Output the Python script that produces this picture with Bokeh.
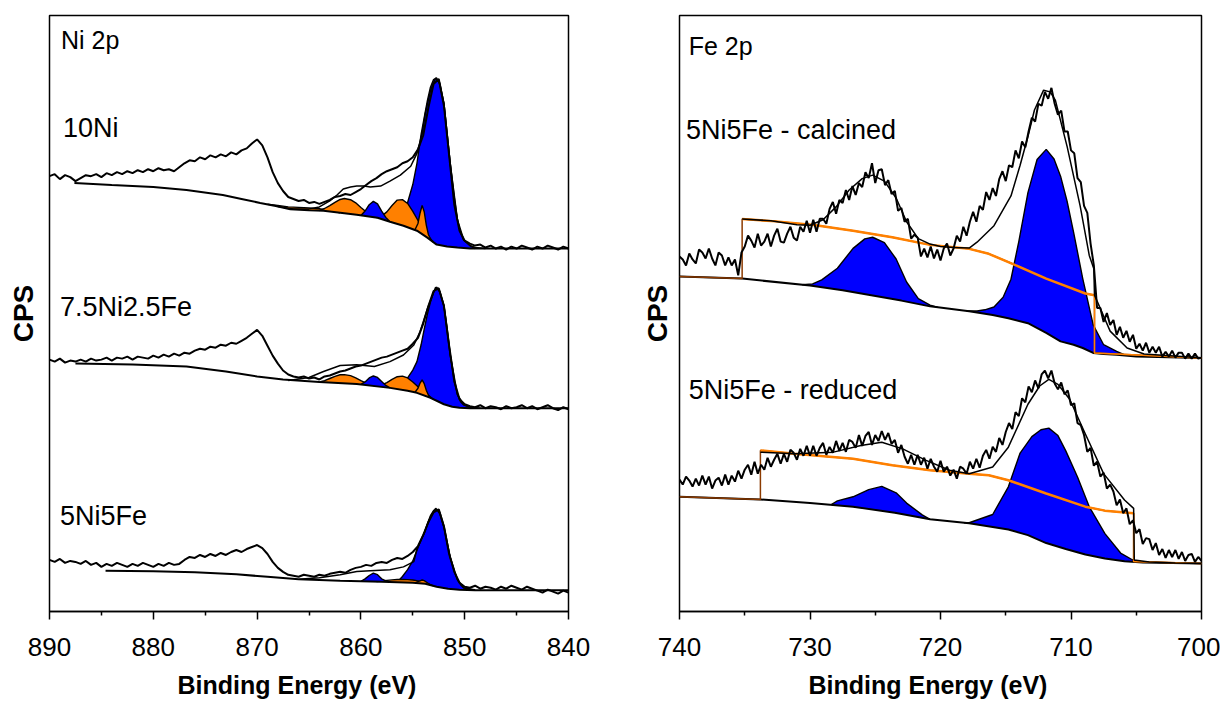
import numpy as np
from bokeh.plotting import figure
from bokeh.layouts import row
from bokeh.models import Range1d, FixedTicker, Label, Title
from bokeh.embed import file_html
from bokeh.resources import INLINE

FONT = "Liberation Sans"
BLUE = "#0000FF"
ORANGE = "#FF8000"
BROWN = "#8B3A00"

# ---------------- Ni 2p panel (values in arbitrary CPS units, stacked) ----------------
ni_e_start, ni_e_step = 890.0, 0.5

ni10_counts = [439, 441, 436, 440, 438, 434, 437, 440, 439, 441,
               438, 442, 440, 443, 441, 444, 442, 445, 443, 446,
               444, 447, 445, 446, 444, 448, 452, 455, 454, 458,
               456, 460, 458, 461, 459, 463, 461, 465, 467, 472,
               476, 470, 458, 443, 432, 424, 418, 416, 414, 415,
               412, 413, 411, 413, 415, 418, 419, 421, 420, 423,
               426, 430, 434, 437, 441, 444, 446, 448, 452, 454,
               458, 466, 480, 508, 532, 537, 510, 460, 410, 384,
               374, 371, 369, 370, 367, 369, 366, 368, 365, 368,
               366, 369, 367, 365, 368, 366, 369, 367, 365, 368,
               366]
ni75_counts = [254, 252, 255, 251, 253, 252, 254, 252, 255, 253,
               254, 256, 253, 256, 255, 257, 254, 257, 256, 255,
               258, 256, 259, 257, 260, 258, 261, 260, 263, 265,
               264, 267, 266, 269, 268, 271, 270, 273, 276, 280,
               284, 278, 268, 258, 250, 243, 239, 237, 236, 237,
               235, 236, 234, 237, 238, 240, 242, 243, 245, 247,
               248, 250, 252, 254, 256, 257, 259, 261, 263, 265,
               270, 276, 290, 308, 323, 326, 308, 268, 232, 214,
               209, 207, 206, 208, 205, 207, 206, 204, 207, 205,
               206, 208, 205, 207, 204, 206, 208, 205, 203, 206,
               204]
ni5_counts = [52, 50, 53, 49, 51, 50, 48, 51, 47, 49,
              45, 48, 46, 49, 47, 45, 48, 46, 49, 47,
              45, 48, 46, 49, 47, 48, 52, 55, 54, 57,
              55, 58, 56, 59, 57, 60, 62, 60, 63, 65,
              67, 64, 58, 50, 44, 40, 37, 36, 35, 37,
              36, 35, 37, 36, 38, 39, 40, 39, 42, 44,
              45, 47, 46, 49, 50, 49, 52, 54, 53, 56,
              60, 66, 77, 90, 100, 103, 86, 58, 40, 29,
              25, 24, 26, 23, 25, 24, 22, 25, 23, 26,
              24, 22, 25, 23, 21, 19, 22, 20, 18, 21,
              19]

# backgrounds
bg10_e = [887.6, 884, 880, 876.8, 873.3, 871.5, 869.7, 868.2, 866.8, 865, 863.6, 862, 860.4,
          858.4, 857.2, 855.9, 854.6, 853.6, 852.7, 851.7, 850.7, 849.5, 840]
bg10 = [432, 430, 428, 425, 420, 416, 412, 409, 405.5, 404.5, 404, 402, 400,
        397, 393, 389, 384, 377, 370, 368, 367, 366, 366]
bg75_e = [887.5, 882, 876.8, 873, 870, 867.5, 864, 860.4, 857.2, 855.5, 854.6, 853.3,
          852.6, 852.0, 851.2, 850.5, 849.5, 840]
bg75 = [250, 249, 247, 242, 237, 234, 231.5, 229.5, 225.5, 222.5, 220.5, 215.5,
        212, 209, 206.5, 205.5, 205, 205]
bg5_e = [884.6, 880, 876, 872, 869, 866, 862, 858, 855, 853.8, 852.7, 851.6, 850.5, 849, 840]
bg5 = [41, 40.5, 39.5, 37.5, 35, 32.5, 31, 30, 29, 28, 25, 23, 22, 21.5, 21.5]

# fit envelopes
env10_e = [868.0, 866.5, 865.0, 864.0, 863.0, 862.3, 861.7, 861.0, 860.4, 859.7, 859.1, 858.1,
           857.2, 856.2, 855.2, 854.6, 854.1, 853.8, 853.3, 852.8, 852.4, 852.0, 851.4,
           850.7, 850.1, 849.5, 849.0, 848.0]
env10 = [408.5, 406, 406, 408, 414, 420, 426, 428, 429, 429, 428, 429,
         434, 440, 449, 462, 482, 502, 525, 538, 533, 512, 452,
         395, 375, 369, 367, 366]
env75_e = [867.0, 865.0, 863.6, 862.0, 860.4, 858.7, 857.2, 855.9, 854.9, 854.3, 853.6,
           852.8, 852.4, 852.0, 851.4, 850.7, 850.1, 849.5, 848.5]
env75 = [233, 236, 242, 248, 248.7, 247, 252, 258.7, 268.7, 282, 305,
         327, 323, 308.7, 258.7, 218.7, 208.7, 206, 205]
env5_e = [866, 864, 862, 860.4, 859.1, 857.2, 855.9, 854.9, 854.6, 853.9, 853.3, 852.8,
          852.4, 852.0, 851.4, 850.7, 850.1, 849.5, 849.0]
env5 = [32.5, 34, 37, 40.3, 41, 42, 45, 50.3, 63, 79, 95.5, 104,
        100, 86, 55, 32, 24, 22.5, 22]

# fitted components: heights above the background
ni_main_e = [856.5, 856.0, 855.5, 855.0, 854.6, 854.2, 853.9, 853.6, 853.3, 853.0, 852.7,
             852.4, 852.0, 851.7, 851.4, 851.0, 850.7, 850.4, 850.1, 849.5, 849.0]
ni10_main_h = [0, 6, 25, 45, 68, 100, 119, 138, 154, 164, 168, 162, 144, 115, 85, 50, 28, 15, 8, 3, 0]
ni75_main_h = [0, 4, 13, 22, 31.5, 50, 67, 83, 96.5, 108, 114.5, 111, 99, 78, 53, 26, 13, 6, 3, 1, 0]
ni5_main_h = [0, 6, 13, 22, 33, 44, 51, 61, 70, 76, 78, 74, 61, 46, 32, 18, 10, 5, 2, 1, 0]

ni_sat0_e = [869, 868, 867, 866, 865, 864, 863, 862]
ni10_sat0_h = [0, 1, 2, 2.5, 2.5, 2, 1, 0]

ni_sat1_e = [864.0, 863.5, 863.0, 862.5, 862.0, 861.6, 861.0, 860.5, 860.0, 859.5, 859.0, 858.5]
ni10_sat1_h = [0, 2.5, 6, 10, 13.5, 15, 14.5, 12, 8, 4.5, 2, 0]
ni75_sat1_h = [0, 1.5, 4, 6.5, 8.3, 8.7, 8, 6, 3.8, 2, 0.8, 0]

ni_small_e = [860.0, 859.6, 859.2, 858.8, 858.4, 858.0, 857.6, 857.2]
ni10_small_h = [0, 5, 12, 16, 14, 8, 3, 0]
ni75_small_h = [0, 3, 7.5, 10, 9, 5.5, 2, 0]
ni5_small_h = [0, 2.5, 6, 8.5, 7, 3, 1, 0]

ni_sat2_e = [858.5, 858.0, 857.5, 857.0, 856.5, 856.0, 855.5, 855.0, 854.5, 854.0, 853.5, 853.0]
ni10_sat2_h = [0, 3, 9, 17, 24, 26, 24, 18, 11, 5, 2, 0]
ni75_sat2_h = [0, 2, 5, 9, 12.5, 14, 13, 10, 6.5, 3.5, 1.5, 0]
ni5_sat2_h = [0, 0.8, 1.5, 2.2, 2.8, 3, 3, 2.8, 2.3, 1.5, 0.6, 0]

ni_narrow_e = [854.8, 854.5, 854.3, 854.1, 853.9, 853.7, 853.5, 853.2]
ni10_narrow_h = [0, 8, 20, 29, 24, 12, 4, 0]
ni75_narrow_h = [0, 5, 11, 15, 12, 6, 2, 0]
ni5_narrow_h = [0, 1.5, 2.5, 3.5, 3, 2, 1, 0]

ni_ticks = [890, 880, 870, 860, 850, 840]
ni_minor = [885, 875, 865, 855, 845]

# ---------------- Fe 2p panel ----------------
fe_e_start, fe_e_step = 740.0, 0.25

fe_calc_counts = [358, 355, 349, 361, 355, 351, 365, 362,
                  356, 366, 356, 349, 362, 359, 349, 357,
                  349, 355, 339, 362, 368, 379, 374, 367,
                  381, 369, 373, 381, 368, 379, 386, 373,
                  372, 381, 388, 377, 374, 388, 383, 394,
                  382, 395, 383, 396, 396, 391, 406, 413,
                  401, 415, 412, 425, 415, 429, 420, 432,
                  428, 443, 437, 452, 432, 445, 446, 430,
                  435, 421, 424, 404, 407, 393, 396, 376,
                  380, 377, 358, 366, 357, 368, 356, 365,
                  354, 366, 371, 359, 366, 379, 373, 388,
                  379, 393, 403, 393, 409, 405, 423, 415,
                  427, 419, 436, 444, 434, 450, 448, 465,
                  457, 474, 468, 484, 498, 494, 512, 510,
                  524, 517, 528, 512, 501, 505, 484, 484,
                  465, 462, 437, 433, 409, 402, 371, 349,
                  306, 306, 292, 301, 289, 294, 279, 287,
                  276, 283, 272, 279, 265, 270, 263, 271,
                  261, 267, 261, 267, 257, 262, 257, 263,
                  256, 261, 261, 255, 260, 255, 260, 255,
                  256]
fe_red_counts = [133, 128, 136, 132, 126, 134, 127, 137,
                 128, 136, 124, 132, 135, 127, 138, 128,
                 137, 131, 142, 134, 143, 148, 138, 151,
                 139, 148, 143, 155, 146, 153, 159, 149,
                 159, 151, 163, 160, 153, 164, 157, 167,
                 157, 167, 157, 165, 170, 158, 166, 160,
                 172, 162, 170, 161, 173, 171, 165, 178,
                 167, 177, 181, 168, 178, 172, 182, 173,
                 180, 169, 173, 160, 168, 156, 149, 158,
                 148, 158, 148, 155, 144, 154, 146, 141,
                 152, 141, 146, 137, 143, 134, 146, 144,
                 139, 151, 144, 154, 145, 157, 163, 154,
                 166, 161, 175, 168, 181, 190, 184, 201,
                 197, 215, 211, 227, 221, 233, 225, 239,
                 243, 235, 243, 230, 224, 231, 219, 223,
                 208, 210, 190, 188, 178, 161, 165, 147,
                 151, 136, 140, 124, 128, 121, 107, 113,
                 99, 104, 88, 92, 79, 83, 68, 74,
                 73, 62, 69, 57, 63, 54, 62, 55,
                 62, 53, 60, 51, 57, 58, 50, 55,
                 51]

bg_calc_e = [740, 735.2, 730, 727.5, 725.2, 723, 720.8, 717.8, 716, 714.8, 713.3, 711.9,
             710.8, 709.8, 709.1, 708.3, 707.5, 706.5, 705, 700]
bg_calc = [337.7, 335.7, 328.7, 324, 318.7, 313.5, 307.7, 302.7, 299, 295.7, 290.7, 281,
           272.4, 269, 265.7, 260.7, 259.7, 259, 257.2, 255.7]
bg_red_e = [740, 733.8, 730, 726.7, 723.5, 720.8, 717.8, 714.8, 713.3, 711.9, 710.4, 708.9,
            707.4, 705.9, 704.5, 700]
bg_red = [115.7, 113, 109.5, 105.7, 99.5, 93, 89, 82.7, 77, 69, 63, 57.4,
          53.5, 50.7, 49.5, 48.4]

or_calc_e = [740, 735.2, 735.2, 732.6, 729.7, 726.7, 723.7, 720.8, 717.8, 716.3, 714.8,
             711.9, 708.9, 708.2, 708.2, 700]
or_calc = [337.7, 335.7, 395.7, 393.4, 389.7, 384, 377.4, 369.7, 365.7, 360.7, 352.4,
           335.7, 320.7, 319, 260.7, 255.7]
or_red_e = [740, 733.8, 733.8, 731.2, 726.7, 723.7, 720.8, 717.8, 716.3, 714.8, 711.9,
            708.9, 707.4, 705.2, 705.2, 700]
or_red = [115.7, 113, 162.4, 159, 154, 147.4, 142.4, 139, 137.4, 132.4, 119,
          105.7, 101.7, 99, 50.3, 48.4]

env_calc_e = [735.2, 733, 731, 730, 729, 728, 727, 726, 725.2, 724.3, 723.4, 722.6, 721.7,
              720.8, 720, 719, 717.8, 717.2, 715.9, 714.6, 713.9, 713.3, 712.8, 712.1,
              711.6, 711.2, 710.3, 709.3, 708.6, 708.25, 708.2, 707.0, 705.7, 704.4, 703.0, 700.0]
env_calc = [395.7, 394, 390, 389.5, 395, 408, 425, 436.5, 440, 434, 417, 393, 376,
            370.5, 368, 367, 366.5, 372.4, 389, 419, 450, 479, 505.7, 525.7,
            524, 515.7, 469, 409, 359, 345.7, 319, 282.7, 265.7, 259.7, 258.4, 256]
env_red_e = [733.8, 731.2, 728.2, 726.1, 724.5, 722.9, 721.1, 719.3, 717.8, 716.0, 714.8,
             713.3, 712.4, 711.7, 711.0, 710.1, 708.9, 707.5, 705.9, 705.2, 705.15, 704,
             702, 700]
env_red = [160.7, 159, 160.7, 167.4, 170.7, 164, 152.4, 142.4, 139, 145.7, 165.7,
           209, 227.4, 234, 229, 214, 179, 139, 112.4, 104, 52, 50, 49, 48.4]

fe_calc_p1_e = [730.6, 729.8, 729.1, 727.9, 726.7, 725.8, 725.2, 724.3, 723.4, 722.6, 721.7, 720.8, 720.2]
fe_calc_p1_h = [0, 2, 7.4, 21.4, 44, 55.7, 58.7, 55.4, 41, 19.8, 5.4, 1.3, 0]
fe_calc_p2_e = [718.0, 717.2, 716.6, 715.9, 715.2, 714.6, 714.0, 713.3, 712.6, 711.9, 711.3,
                710.8, 710.3, 709.8, 709.1, 708.3, 707.5, 706.5, 705.8]
fe_calc_p2_h = [0, 1.6, 4, 8.3, 20, 40, 80, 131.7, 170, 185, 180, 166.6, 143, 113.4, 70,
                28.3, 9.3, 3.4, 0]
fe_red_p1_e = [728.4, 727.9, 726.7, 725.5, 724.5, 723.4, 722.6, 721.4, 720.8]
fe_red_p1_h = [0, 4.4, 10, 19.5, 24.7, 20.4, 12, 3, 0]
fe_red_p2_e = [718.2, 717.8, 716.0, 714.8, 713.9, 713.0, 712.3, 711.7, 711.0, 710.4, 709.5,
               708.6, 707.4, 706.2, 705.3, 704.7]
fe_red_p2_h = [0, 0.5, 12.6, 43, 80.5, 101, 112, 116.7, 112, 99, 76, 49, 25, 7.7, 2, 0]

fe_ticks = [740, 730, 720, 710, 700]
fe_minor = [735, 725, 715, 705]


# ---------------- helpers ----------------
def energies(start, step, vals):
    return start - step * np.arange(len(vals))


def base_at(bg_e, bg_v, e):
    be = np.asarray(bg_e, float)
    bv = np.asarray(bg_v, float)
    o = np.argsort(be)
    return np.interp(np.asarray(e, float), be[o], bv[o])


def draw_peak(p, bg_e, bg_v, pe, ph, color):
    b = base_at(bg_e, bg_v, pe)
    top = b + np.asarray(ph, float)
    p.varea(x=pe, y1=b, y2=top, fill_color=color, fill_alpha=1)
    p.line(pe, top, line_color="black", line_width=1.4)


def make_fig(width, xr, ytop, ml, mr, mt, mb, ticks, minors, lab_standoff,
             title_offset, title_standoff, cps_standoff):
    p = figure(width=width, height=708, x_range=Range1d(*xr), y_range=Range1d(0, ytop),
               output_backend="svg", toolbar_location=None,
               min_border_left=ml, min_border_right=mr, min_border_top=mt, min_border_bottom=mb)
    p.grid.visible = False
    p.outline_line_color = "black"
    p.outline_line_width = 1.5
    p.outline_line_alpha = 1
    p.background_fill_color = "white"
    p.border_fill_color = "white"
    xa = p.xaxis[0]
    xa.ticker = FixedTicker(ticks=ticks, minor_ticks=minors)
    xa.axis_line_width = 1.5
    xa.axis_line_color = "black"
    xa.major_tick_out = 8
    xa.major_tick_in = 0
    xa.minor_tick_out = 4
    xa.minor_tick_in = 0
    xa.major_tick_line_width = 1.5
    xa.minor_tick_line_width = 1.5
    xa.major_label_text_font = FONT
    xa.major_label_text_font_size = "26px"
    xa.major_label_text_color = "black"
    xa.major_label_standoff = lab_standoff
    p.add_layout(Title(text="Binding Energy (eV)", align="left", offset=title_offset,
                       standoff=title_standoff, text_font=FONT, text_font_size="25px",
                       text_font_style="bold", text_color="black"), "below")
    ya = p.yaxis[0]
    ya.ticker = FixedTicker(ticks=[])
    ya.major_tick_out = 0
    ya.major_tick_in = 0
    ya.minor_tick_out = 0
    ya.minor_tick_in = 0
    ya.axis_line_color = None
    ya.major_label_standoff = 0
    ya.axis_label = "CPS"
    ya.axis_label_text_font = FONT
    ya.axis_label_text_font_size = "28px"
    ya.axis_label_text_font_style = "bold"
    ya.axis_label_text_color = "black"
    ya.axis_label_standoff = cps_standoff
    return p


def add_text(p, x, y, text, size):
    p.add_layout(Label(x=x, y=y, text=text, text_font=FONT, text_font_size=size,
                       text_align="left", text_baseline="alphabetic", text_color="black"))


# ---------------- left panel: Ni 2p ----------------
pl = make_fig(628, (890, 840), 601, 49, 60, 11, 96, ni_ticks, ni_minor, 18, 128, 20, 11)

ni_sets = [
    (ni10_counts, bg10_e, bg10, env10_e, env10,
     [(ni_main_e, ni10_main_h, BLUE), (ni_sat0_e, ni10_sat0_h, ORANGE),
      (ni_sat1_e, ni10_sat1_h, ORANGE), (ni_sat2_e, ni10_sat2_h, ORANGE),
      (ni_narrow_e, ni10_narrow_h, ORANGE), (ni_small_e, ni10_small_h, BLUE)]),
    (ni75_counts, bg75_e, bg75, env75_e, env75,
     [(ni_main_e, ni75_main_h, BLUE), (ni_sat1_e, ni75_sat1_h, ORANGE),
      (ni_sat2_e, ni75_sat2_h, ORANGE), (ni_narrow_e, ni75_narrow_h, ORANGE),
      (ni_small_e, ni75_small_h, BLUE)]),
    (ni5_counts, bg5_e, bg5, env5_e, env5,
     [(ni_main_e, ni5_main_h, BLUE), (ni_sat2_e, ni5_sat2_h, ORANGE),
      (ni_narrow_e, ni5_narrow_h, ORANGE), (ni_small_e, ni5_small_h, BLUE)]),
]
for counts, be, bv, ee, ev, peaks in ni_sets:
    for pe, ph, col in peaks:
        draw_peak(pl, be, bv, pe, ph, col)
    pl.line(be, bv, line_color="black", line_width=2)
    pl.line(ee, ev, line_color="black", line_width=1.5)
    pl.line(energies(ni_e_start, ni_e_step, counts), counts, line_color="black", line_width=2)

add_text(pl, 888.9, 576, "Ni 2p", "25px")
add_text(pl, 888.7, 488, "10Ni", "27px")
add_text(pl, 889.0, 307, "7.5Ni2.5Fe", "27px")
add_text(pl, 889.0, 96, "5Ni5Fe", "27px")

# ---------------- right panel: Fe 2p ----------------
pr = make_fig(592, (740, 700), 601, 51, 19, 15, 92, fe_ticks, fe_minor, 18, 129, 20, 7)

fe_sets = [
    (fe_calc_counts, bg_calc_e, bg_calc, or_calc_e, or_calc, env_calc_e, env_calc,
     [(fe_calc_p1_e, fe_calc_p1_h), (fe_calc_p2_e, fe_calc_p2_h)]),
    (fe_red_counts, bg_red_e, bg_red, or_red_e, or_red, env_red_e, env_red,
     [(fe_red_p1_e, fe_red_p1_h), (fe_red_p2_e, fe_red_p2_h)]),
]
for counts, be, bv, oe, ov, ee, ev, peaks in fe_sets:
    for pe, ph in peaks:
        draw_peak(pr, be, bv, pe, ph, BLUE)
    pr.line(be, bv, line_color="black", line_width=2)
    # step-type background: thin full trace, thick orange middle part
    pr.line(oe, ov, line_color=BROWN, line_width=1.5)
    pr.line(oe[2:-2], ov[2:-2], line_color=ORANGE, line_width=2.5)
    pr.line(oe[-3:], ov[-3:], line_color=ORANGE, line_width=1.5)
    pr.line(ee, ev, line_color="black", line_width=1.5)
    pr.line(energies(fe_e_start, fe_e_step, counts), counts, line_color="black", line_width=2)

add_text(pr, 739.3, 570, "Fe 2p", "25px")
add_text(pr, 739.5, 486, "5Ni5Fe - calcined", "27px")
add_text(pr, 739.3, 223, "5Ni5Fe - reduced", "27px")

layout = row(pl, pr)
open("out.html", "w").write(file_html(layout, INLINE))
